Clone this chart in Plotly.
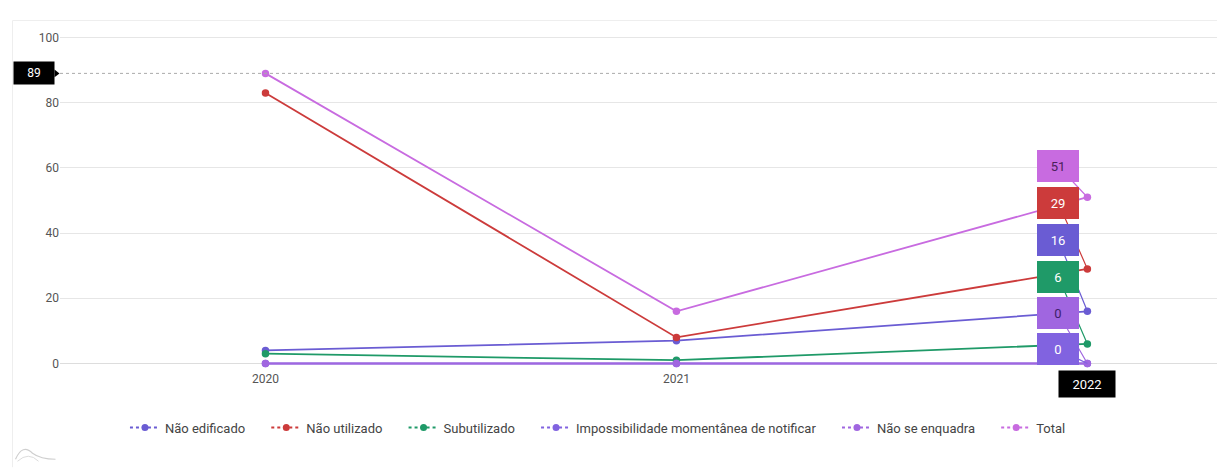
import plotly.graph_objects as go

years = [2020, 2021, 2022]
series_names = ["Não edificado", "Não utilizado", "Subutilizado",
                "Impossibilidade momentânea de notificar", "Não se enquadra", "Total"]
nao_edificado = [4, 7, 16]
nao_utilizado = [83, 8, 29]
subutilizado = [3, 1, 6]
impossibilidade = [0, 0, 0]
nao_enquadra = [0, 0, 0]
total = [89, 16, 51]
y_ticks = [0, 20, 40, 60, 80, 100]

colors = ["#6a5cd3", "#cc3b3b", "#1f9a68", "#8163e0", "#a066e0", "#c86be0"]
values = [nao_edificado, nao_utilizado, subutilizado, impossibilidade, nao_enquadra, total]

# figure is placed with an 8px page margin; sizes compensate for that
W, H = 1217, 460
L, R, T, B = 51.5, 2.4, 22.5, 97.5
plot_w = W - L - R
plot_h = H - T - B

fig = go.Figure()
for i, (name, vals, col) in enumerate(zip(series_names, values, colors)):
    fig.add_trace(go.Scatter(
        x=years, y=vals, name=name, mode="lines+markers",
        line=dict(color=col, width=1.8),
        marker=dict(color=col, size=7.5),
        cliponaxis=False, showlegend=False, legendgroup=name,
    ))
for i, (name, col) in enumerate(zip(series_names, colors)):
    pad = "\u00a0" * 5 if i < len(series_names) - 1 else ""
    fig.add_trace(go.Scatter(
        x=[None], y=[None], name=name + pad, mode="lines+markers",
        line=dict(color=col, width=2, dash="dot"),
        marker=dict(color=col, size=7),
        showlegend=True, legendgroup=name,
    ))

# hover-style stacked labels at 2022
label_order = [5, 1, 0, 2, 4, 3]
ay_offsets = [-31, -66, -71, -67, -50, -14]
text_colors = {5: "#4a1f5a", 1: "white", 0: "white", 2: "white", 4: "#3e1f6a", 3: "white"}
annotations = []
for idx, ay in zip(label_order, ay_offsets):
    v = values[idx][2]
    annotations.append(dict(
        x=years[2], y=v, xref="x", yref="y",
        text=str(v), showarrow=True, arrowhead=0, arrowwidth=1.2,
        arrowcolor=colors[idx], ax=-29, ay=ay,
        bgcolor=colors[idx], bordercolor=colors[idx], borderpad=6,
        width=28, height=18,
        font=dict(family="Roboto", size=13, color=text_colors[idx]),
    ))

# crosshair label for y value (Total 2020)
annotations.append(dict(
    x=0, y=total[0], xref="paper", yref="y", xanchor="right", yanchor="middle",
    xshift=-5, text=str(total[0]), showarrow=False,
    bgcolor="#000000", borderpad=4, width=32, height=14,
    font=dict(family="Roboto", size=12, color="white"),
))
annotations.append(dict(
    x=years[2], y=0, xref="x", yref="paper", xanchor="center", yanchor="top",
    text=str(years[2]), showarrow=False,
    bgcolor="#000000", borderpad=5, width=46, height=16,
    font=dict(family="Roboto", size=13, color="white"),
))

px_x = lambda p: (p - L) / plot_w
px_y = lambda p: (H - B - p) / plot_h
unit = plot_h / 104.0
tri_h = 4 / unit
shapes = [
    dict(type="line", xref="paper", yref="y", x0=0, x1=1, y0=total[0], y1=total[0],
         line=dict(color="#aaaaaa", width=1, dash="dot")),
    dict(type="path", xref="paper", yref="y",
         path=f"M {px_x(L-5.5)},{total[0]+tri_h} L {px_x(L-0.5)},{total[0]} L {px_x(L-5.5)},{total[0]-tri_h} Z",
         fillcolor="#000000", line=dict(width=0)),
    dict(type="line", xref="paper", yref="paper", x0=px_x(4), x1=px_x(4), y0=px_y(H), y1=px_y(12),
         line=dict(color="#eeeeee", width=1)),
    dict(type="line", xref="paper", yref="paper", x0=px_x(4), x1=1.01, y0=px_y(12), y1=px_y(12),
         line=dict(color="#eeeeee", width=1)),
    dict(type="path", xref="paper", yref="paper",
         path=(f"M {px_x(7)},{px_y(452)} Q {px_x(14)},{px_y(436)} {px_x(24)},{px_y(446)} "
               f"Q {px_x(32)},{px_y(452)} {px_x(47)},{px_y(452)}"),
         line=dict(color="#cfcfcf", width=1.2)),
    dict(type="path", xref="paper", yref="paper",
         path=(f"M {px_x(9)},{px_y(454)} Q {px_x(20)},{px_y(444)} {px_x(30)},{px_y(454)}"),
         line=dict(color="#dddddd", width=1)),
]

fig.update_layout(
    width=W, height=H,
    margin=dict(l=L, r=R, t=T, b=B),
    paper_bgcolor="white", plot_bgcolor="white",
    font=dict(family="Roboto", size=12, color="#555555"),
    showlegend=True,
    legend=dict(orientation="h", x=px_x(589.5), xanchor="center", y=-0.17, yanchor="middle",
                font=dict(family="Roboto", size=13, color="#444444"),
                itemwidth=30, tracegroupgap=0),
    xaxis=dict(range=[2019.5, 2022.33], tickvals=years, ticktext=["2020", "2021", ""],
               showgrid=False, zeroline=False, showline=False, ticks="",
               tickfont=dict(size=12, color="#555555")),
    yaxis=dict(range=[-2, 102], tickvals=y_ticks, showgrid=True, gridcolor="#e6e6e6",
               gridwidth=1, zeroline=True, zerolinecolor="#dddddd", zerolinewidth=1,
               showline=False, ticks="", ticksuffix="  ",
               tickfont=dict(size=12, color="#555555")),
    annotations=annotations,
    shapes=shapes,
)

fig.write_html("out.html")
